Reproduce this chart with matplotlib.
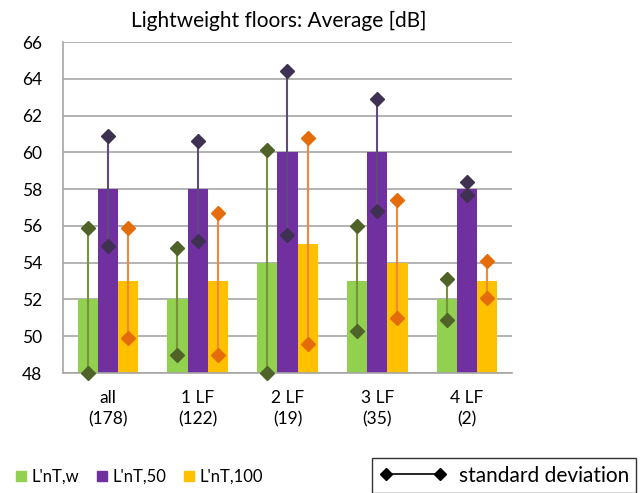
import numpy as np
import matplotlib
matplotlib.use("Agg")
import matplotlib.pyplot as plt
from matplotlib.patches import Patch
from matplotlib.lines import Line2D

plt.rcParams['font.family'] = ['Lato', 'DejaVu Sans']

# data
categories = ["all\n(178)", "1 LF\n(122)", "2 LF\n(19)", "3 LF\n(35)", "4 LF\n(2)"]
series = ["L'nT,w", "L'nT,50", "L'nT,100"]
avg_w = [52, 52, 54, 53, 52]
avg_50 = [58, 58, 60, 60, 58]
avg_100 = [53, 53, 55, 54, 53]
# standard deviation range ends (upper, lower)
sd_w_hi = [55.9, 54.8, 60.1, 56.0, 53.1]
sd_w_lo = [48.0, 49.0, 48.0, 50.3, 50.9]
sd_50_hi = [60.9, 60.6, 64.4, 62.9, 58.4]
sd_50_lo = [54.9, 55.2, 55.5, 56.8, 57.7]
sd_100_hi = [55.9, 56.7, 60.8, 57.4, 54.1]
sd_100_lo = [49.9, 49.0, 49.6, 51.0, 52.1]

bar_colors = ["#92D050", "#7030A0", "#FFC000"]
sd_line_colors = ["#77933C", "#5F4B7A", "#F08A3A"]
sd_mark_colors = ["#4F6228", "#3F3151", "#E46C0A"]

fig = plt.figure(figsize=(6.42, 4.93), dpi=100)
ax = fig.add_axes([0.098, 0.2434, 0.6995, 0.6714])

x = np.arange(len(categories))
w = 0.225
avgs = [avg_w, avg_50, avg_100]
his = [sd_w_hi, sd_50_hi, sd_100_hi]
los = [sd_w_lo, sd_50_lo, sd_100_lo]

for i in range(3):
    xi = x + (i - 1) * w
    ax.bar(xi, np.array(avgs[i]) - 48, bottom=48, width=w, color=bar_colors[i],
           zorder=2)
    ax.vlines(xi, los[i], his[i], color=sd_line_colors[i], lw=1.5, zorder=3)
    ax.plot(xi, his[i], 'D', color=sd_mark_colors[i], ms=7, zorder=4, clip_on=False)
    ax.plot(xi, los[i], 'D', color=sd_mark_colors[i], ms=7, zorder=4, clip_on=False)

ax.set_ylim(48, 66)
ax.set_yticks(np.arange(48, 67, 2))
ax.set_xlim(-0.5, 4.5)
ax.set_xticks(x)
ax.set_xticklabels(categories, fontsize=12.5, linespacing=1.45)
ax.tick_params(axis='both', length=0, labelsize=12.5)
ax.tick_params(axis='x', pad=12)
ax.tick_params(axis='y', pad=15)
ax.yaxis.grid(True, color="#A6A6A6", lw=1.2, zorder=0)
ax.set_axisbelow(True)
for s in ['top', 'right']:
    ax.spines[s].set_visible(False)
for s in ['left', 'bottom']:
    ax.spines[s].set_color("#A6A6A6")
    ax.spines[s].set_linewidth(1.2)

fig.text(0.434, 0.957, "Lightweight floors: Average [dB]", ha='center', va='center',
         fontsize=15)

handles = [Patch(color=c, label=l) for c, l in zip(bar_colors, series)]
fig.legend(handles=handles, loc='center left', bbox_to_anchor=(0.002, 0.033), ncol=3,
           frameon=False, fontsize=12, handlelength=0.6, handleheight=0.6,
           handletextpad=0.3, columnspacing=1.1)

sd_handle = Line2D([], [], color='black', marker='D', ms=6.5, lw=1.2,
                   label='standard deviation')
fig.legend(handles=[sd_handle], loc='lower left', bbox_to_anchor=(0.58, 0.0),
           numpoints=2, frameon=True, fancybox=False, edgecolor='black',
           fontsize=15, handlelength=3.2, borderpad=0.35, handletextpad=0.6,
           borderaxespad=0.0)

fig.savefig("out.png", dpi=100)
